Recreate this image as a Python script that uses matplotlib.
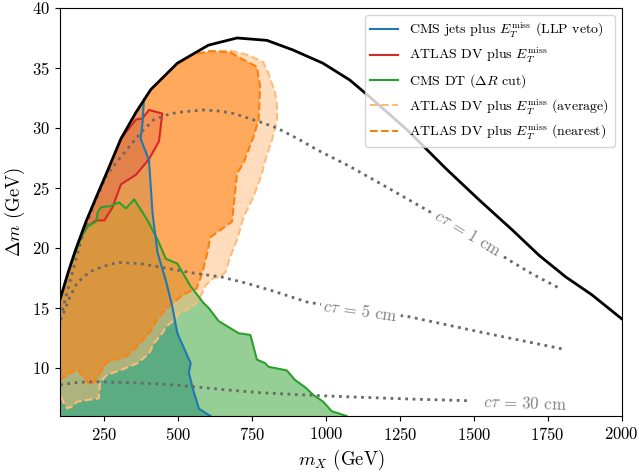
import numpy as np
import matplotlib
matplotlib.use("Agg")
import matplotlib.pyplot as plt
from matplotlib.patches import Polygon
from matplotlib.colors import to_rgba

plt.rcParams.update({
    "font.family": "serif",
    "font.serif": ["cmr10"],
    "mathtext.fontset": "cm",
    "axes.unicode_minus": False,
    "axes.formatter.use_mathtext": True,
})

XMIN, XMAX, YMIN, YMAX = 100, 2000, 6, 40

# kinematic boundary (upper edge of the allowed region)
boundary_mx = [100, 128, 152, 188, 222, 262, 306, 357, 407, 497, 602, 699, 800, 888,
               989, 1080, 1147, 1276, 1406, 1518, 1630, 1720, 1810, 1899, 2000]
boundary_dm = [15.7, 18.0, 19.8, 22.2, 24.2, 26.5, 29.1, 31.3, 33.2, 35.4, 36.9, 37.5,
               37.3, 36.5, 35.4, 34.0, 32.6, 29.8, 26.6, 24.0, 21.5, 19.4, 17.6, 16.1, 14.1]

# CMS jets plus MET (LLP veto): excluded to the left of the line
cms_jets_mx = [384, 379, 373, 401, 413, 430, 458, 480, 497, 542, 536, 548, 570, 609]
cms_jets_dm = [32.4, 30.4, 29.1, 27.3, 22.9, 19.6, 17.3, 15.1, 12.9, 10.4, 9.6, 8.4, 6.6, 6.0]

# CMS DT (Delta R cut): excluded below the line
cms_dt_mx = [100, 138, 172, 194, 222, 228, 239, 272, 300, 323, 351, 373, 396, 430, 458,
             497, 542, 586, 603, 637, 704, 744, 766, 794, 805, 867, 895, 929, 957, 990,
             1019, 1069]
cms_dt_dm = [15.7, 18.7, 20.9, 21.8, 22.2, 23.0, 23.4, 23.5, 23.8, 23.3, 24.05, 23.2,
             22.3, 20.7, 19.1, 18.7, 16.8, 15.4, 15.0, 13.9, 12.9, 12.75, 10.7, 10.4,
             10.1, 9.8, 9.0, 8.4, 7.75, 7.2, 6.4, 6.0]

# ATLAS DV plus MET: closed contour
atlas_dv_mx = [177, 222, 250, 278, 306, 357, 401, 435, 441, 446, 401, 379, 357, 306, 261, 216]
atlas_dv_dm = [21.5, 22.3, 22.3, 23.4, 25.3, 26.1, 27.4, 28.9, 30.2, 31.2, 31.5, 30.8,
               30.7, 29.1, 26.6, 24.3]

# ATLAS DV plus MET, nearest-point reinterpretation
atlas_near_mx = [80, 450, 503, 542, 609, 676, 704, 766, 777, 772, 755, 721, 699, 682, 609,
                 598, 581, 562, 531, 506, 461, 427, 405, 360, 326, 259, 242, 225, 203, 169,
                 158, 108, 80]
atlas_near_dm = [40, 40, 35.4, 36.1, 36.4, 36.3, 35.9, 35.1, 33.4, 30.7, 29.3, 27.1, 26.2,
                 22.2, 20.9, 19.56, 17.9, 16.6, 16.3, 15.9, 15.0, 14.0, 13.0, 11.8, 11.0,
                 10.5, 9.83, 9.14, 8.58, 9.56, 9.97, 9.14, 9.14]

# ATLAS DV plus MET, averaged reinterpretation
atlas_avg_mx = [80, 450, 503, 542, 609, 676, 733, 787, 805, 828, 834, 834, 817, 794, 783,
                755, 721, 699, 676, 660, 643, 620, 592, 586, 570, 548, 502, 486, 458, 446,
                418, 401, 362, 306, 259, 236, 231, 192, 158, 141, 124, 113, 104, 80]
atlas_avg_dm = [40, 40, 35.4, 36.1, 36.4, 36.44, 36.1, 35.5, 34.56, 32.9, 31.8, 30.7, 29.0,
                27.3, 26.2, 24.3, 22.6, 20.7, 19.3, 18.0, 17.6, 17.5, 16.9, 16.5, 15.7, 15.1,
                14.56, 14.0, 13.4, 12.9, 12.06, 11.2, 10.4, 9.83, 9.42, 8.86, 7.47, 7.33,
                7.19, 6.78, 6.64, 7.06, 7.6, 7.6]

# proper decay length contours
ctau1_mx = [108, 138, 172, 216, 261, 306, 373, 418, 475, 519, 587, 643, 688, 777, 834, 912,
            968, 1080, 1192, 1338, 1480, 1618, 1700, 1793]
ctau1_dm = [14.8, 17.6, 20.7, 23.7, 26.2, 27.6, 29.6, 30.7, 31.2, 31.35, 31.5, 31.4, 31.2,
            30.5, 30.0, 29.0, 28.2, 26.8, 25.25, 23.2, 21.2, 19.0, 17.8, 16.6]
ctau5_mx = [102, 135, 158, 200, 238, 293, 373, 463, 553, 643, 733, 822, 935, 1117, 1275,
            1540, 1797]
ctau5_dm = [14.0, 16.0, 17.1, 18.0, 18.4, 18.8, 18.7, 18.3, 17.9, 17.6, 17.05, 16.4, 15.5,
            14.75, 14.3, 12.9, 11.6]
ctau30_mx = [100, 160, 216, 329, 441, 553, 665, 777, 889, 1002, 1114, 1300, 1490]
ctau30_dm = [8.6, 8.8, 8.86, 8.78, 8.67, 8.44, 8.17, 7.94, 7.8, 7.67, 7.56, 7.4, 7.27]

ctau_labels = [r"$c\tau$ = 1 cm", r"$c\tau$ = 5 cm", r"$c\tau$ = 30 cm"]
ctau_label_mx = [1480, 1117, 1672]
ctau_label_dm = [21.2, 14.75, 7.05]
ctau_label_rot = [-31, -8, -2]

BLUE, RED, GREEN = "#1f77b4", "#d62728", "#2ca02c"
ORANGE, LIGHT_ORANGE = "#ff7f0e", "#ffbb78"

fig = plt.figure(figsize=(6.39, 4.74), dpi=100)
ax = fig.add_axes([0.0939, 0.1224, 0.8790, 0.8608])
ax.set_xlim(XMIN, XMAX)
ax.set_ylim(YMIN, YMAX)

# region below the kinematic boundary, used to clip all exclusion fills
clip_xy = np.column_stack([[XMIN - 50] + boundary_mx + [XMAX + 50, XMAX + 50, XMIN - 50],
                           [boundary_dm[0]] + boundary_dm + [boundary_dm[-1], YMIN - 5, YMIN - 5]])
clip_poly = Polygon(clip_xy, closed=True, transform=ax.transData, fc="none", ec="none")


def add_region(xs, ys, fc, alpha, ec="none", ls="-", lw=1.5, z=1.0):
    p = Polygon(np.column_stack([xs, ys]), closed=True, fc=to_rgba(fc, alpha),
                ec=ec, ls=ls, lw=lw, zorder=z)
    ax.add_patch(p)
    p.set_clip_path(clip_poly)
    return p


# CMS jets: everything left of the line
add_region(cms_jets_mx + [cms_jets_mx[-1], XMIN - 50, XMIN - 50],
           cms_jets_dm + [YMIN - 5, YMIN - 5, YMAX + 5], BLUE, 0.5, z=1.0)
# CMS DT: everything below the line
add_region([XMIN - 50] + cms_dt_mx + [cms_dt_mx[-1], XMIN - 50],
           [cms_dt_dm[0]] + cms_dt_dm + [YMIN - 5, YMIN - 5], GREEN, 0.5, z=1.1)
# ATLAS reinterpretations
add_region(atlas_avg_mx, atlas_avg_dm, LIGHT_ORANGE, 0.5, ec=LIGHT_ORANGE, ls="--", z=1.2)
add_region(atlas_near_mx, atlas_near_dm, ORANGE, 0.55, ec=ORANGE, ls="--", z=1.3)
add_region(atlas_dv_mx, atlas_dv_dm, RED, 0.2, ec=RED, lw=1.5, z=1.4)

ax.plot(cms_dt_mx, cms_dt_dm, color=GREEN, lw=1.5, zorder=2.0)
ax.plot(cms_jets_mx, cms_jets_dm, color=BLUE, lw=1.5, zorder=2.1)

# decay-length contours and their labels
for xs, ys in [(ctau1_mx, ctau1_dm), (ctau5_mx, ctau5_dm), (ctau30_mx, ctau30_dm)]:
    ax.plot(xs, ys, color="dimgray", ls=":", lw=2, zorder=2.2)
for txt, x, y, r in zip(ctau_labels, ctau_label_mx, ctau_label_dm, ctau_label_rot):
    ax.text(x, y, txt, rotation=r, color="gray", fontsize=12, ha="center", va="center",
            rotation_mode="anchor", zorder=2.3,
            bbox=dict(boxstyle="square,pad=0.15", fc="white", ec="none"))

ax.plot(boundary_mx, boundary_dm, color="black", lw=2, zorder=2.5)

# legend entries
ax.plot([], [], color=BLUE, lw=1.5, label=r"CMS jets plus $E_T^{\rm miss}$ (LLP veto)")
ax.plot([], [], color=RED, lw=1.5, label=r"ATLAS DV plus $E_T^{\rm miss}$")
ax.plot([], [], color=GREEN, lw=1.5, label=r"CMS DT ($\Delta R$ cut)")
ax.plot([], [], color=LIGHT_ORANGE, lw=1.5, ls="--",
        label=r"ATLAS DV plus $E_T^{\rm miss}$ (average)")
ax.plot([], [], color=ORANGE, lw=1.5, ls="--",
        label=r"ATLAS DV plus $E_T^{\rm miss}$ (nearest)")
ax.legend(loc="upper right", fontsize=10)

ax.set_xticks([250, 500, 750, 1000, 1250, 1500, 1750, 2000])
ax.set_yticks([10, 15, 20, 25, 30, 35, 40])
ax.tick_params(labelsize=12)
ax.set_xlabel(r"$m_X$ (GeV)", fontsize=13.5)
ax.set_ylabel(r"$\Delta m$ (GeV)", fontsize=13.5)

fig.savefig("out.png", dpi=100)
